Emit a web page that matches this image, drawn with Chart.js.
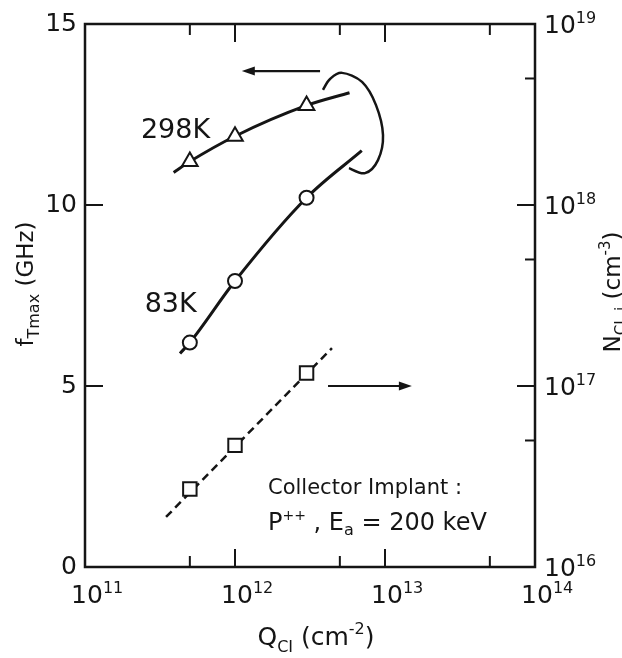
<!DOCTYPE html>
<html>
<head>
<meta charset="utf-8">
<script src="https://cdn.jsdelivr.net/npm/chart.js@4.4.1/dist/chart.umd.min.js"></script>
<style>
  html, body { margin: 0; padding: 0; background: #fff; }
  #wrap { width: 622px; height: 658px; position: relative; }
</style>
</head>
<body>
<div id="wrap"><canvas id="graf"></canvas></div>
<script>
// measured points (markers)
const Q_MARK = [5e11, 1e12, 3e12];
const F_298K = [11.2, 11.9, 12.75];
const F_83K = [6.2, 7.9, 10.2];
const N_CI = [2.7e16, 4.7e16, 1.18e17];

// hand-drawn curves through the points
const Q_FIT_298K = [3.9e11, 5e11, 1e12, 3e12, 5.8e12];
const F_FIT_298K = [10.9, 11.2, 11.9, 12.75, 13.1];
const Q_FIT_83K = [4.3e11, 5e11, 1e12, 3e12, 7e12];
const F_FIT_83K = [5.9, 6.2, 7.9, 10.2, 11.5];
const Q_FIT_N = [3.47e11, 4.43e12];
const N_FIT = [1.89e16, 1.62e17];

// axes
const X_TICKS = [1e11, 1e12, 1e13, 1e14];
const X_MINOR = [5e11, 5e12, 5e13];
const YL_TICKS = [0, 5, 10, 15];
const YR_TICKS = [1e16, 1e17, 1e18, 1e19];
const YR_MINOR = [5e16, 5e17, 5e18];

// annotations (data coordinates, left axis)
const ARROW_LEFT_Q = [3.69e12, 1.11e12];
const ARROW_LEFT_F = [13.7, 13.7];
const ARROW_RIGHT_Q = [4.17e12, 1.51e13];
const ARROW_RIGHT_F = [5.0, 5.0];
const LOOP_Q = [3.86e12, 4.3e12, 5.17e12, 7.03e12, 8.71e12, 9.7e12, 8.98e12, 7.36e12, 5.75e12];
const LOOP_F = [13.18, 13.48, 13.65, 13.4, 12.76, 11.93, 11.24, 10.88, 11.02];

const INK = "#151515";
const FONT = "'DejaVu Sans'";

function body(qs, vs) {
  return qs.map((q, i) => ({ x: q, y: vs[i] }));
}

function richText(ctx, parts, x, y, align) {
  let w = 0;
  parts.forEach(p => { ctx.font = `${p[1]}px ${FONT}`; w += ctx.measureText(p[0]).width; });
  let cx = align === "center" ? x - w / 2 : x;
  parts.forEach(p => {
    ctx.font = `${p[1]}px ${FONT}`;
    ctx.fillText(p[0], cx, y + (p[2] || 0));
    cx += ctx.measureText(p[0]).width;
  });
}

// "10" + exponent; x is the centre of "10" (or its left edge if left = true)
function mocnina(ctx, v, x, y, left) {
  const e = String(Math.round(Math.log10(v)));
  ctx.font = `25px ${FONT}`;
  const w = ctx.measureText("10").width;
  const x0 = left ? x : x - w / 2;
  richText(ctx, [["10", 25], [e, 16, -10]], x0, y, "left");
}

function sipka(ctx, x1, y1, x2, y2) {
  const ang = Math.atan2(y2 - y1, x2 - x1);
  ctx.beginPath();
  ctx.moveTo(x1, y1);
  ctx.lineTo(x2 - Math.cos(ang) * 8, y2 - Math.sin(ang) * 8);
  ctx.stroke();
  ctx.beginPath();
  ctx.moveTo(x2, y2);
  ctx.lineTo(x2 - Math.cos(ang) * 13 - Math.sin(ang) * 4.5, y2 - Math.sin(ang) * 13 + Math.cos(ang) * 4.5);
  ctx.lineTo(x2 - Math.cos(ang) * 13 + Math.sin(ang) * 4.5, y2 - Math.sin(ang) * 13 - Math.cos(ang) * 4.5);
  ctx.closePath();
  ctx.fill();
}

function krivka(ctx, pts) {
  ctx.beginPath();
  ctx.moveTo(pts[0][0], pts[0][1]);
  for (let i = 0; i < pts.length - 1; i++) {
    const p0 = pts[i - 1] || pts[i], p1 = pts[i], p2 = pts[i + 1], p3 = pts[i + 2] || p2;
    ctx.bezierCurveTo(
      p1[0] + (p2[0] - p0[0]) / 6, p1[1] + (p2[1] - p0[1]) / 6,
      p2[0] - (p3[0] - p1[0]) / 6, p2[1] - (p3[1] - p1[1]) / 6,
      p2[0], p2[1]);
  }
  ctx.stroke();
}

const ozdoby = {
  id: "ozdoby",
  afterDraw(chart) {
    const { ctx, chartArea: a, scales } = chart;
    const sx = scales.x, sy = scales.y, sn = scales.y2;
    ctx.save();
    ctx.strokeStyle = INK;
    ctx.fillStyle = INK;
    ctx.lineCap = "butt";

    // frame
    ctx.lineWidth = 2.5;
    ctx.strokeRect(a.left, a.top, a.right - a.left, a.bottom - a.top);

    // inward ticks
    ctx.lineWidth = 2;
    const carka = (x1, y1, x2, y2) => { ctx.beginPath(); ctx.moveTo(x1, y1); ctx.lineTo(x2, y2); ctx.stroke(); };
    X_TICKS.slice(1, -1).forEach(q => {
      const px = sx.getPixelForValue(q);
      carka(px, a.bottom, px, a.bottom - 18);
      carka(px, a.top, px, a.top + 18);
    });
    X_MINOR.forEach(q => {
      const px = sx.getPixelForValue(q);
      carka(px, a.bottom, px, a.bottom - 11);
      carka(px, a.top, px, a.top + 11);
    });
    YL_TICKS.slice(1, -1).forEach(v => {
      const py = sy.getPixelForValue(v);
      carka(a.left, py, a.left + 18, py);
    });
    YR_TICKS.slice(1, -1).forEach(v => {
      const py = sn.getPixelForValue(v);
      carka(a.right, py, a.right - 18, py);
    });
    YR_MINOR.forEach(v => {
      const py = sn.getPixelForValue(v);
      carka(a.right, py, a.right - 10, py);
    });

    // power-of-ten tick labels
    ctx.textBaseline = "alphabetic";
    ctx.textAlign = "left";
    X_TICKS.forEach(q => mocnina(ctx, q, sx.getPixelForValue(q) + 2, a.bottom + 36, false));
    YR_TICKS.forEach(v => mocnina(ctx, v, a.right + 9, sn.getPixelForValue(v) + 9, true));

    // arrows and loop
    ctx.lineWidth = 2.2;
    sipka(ctx, sx.getPixelForValue(ARROW_LEFT_Q[0]), sy.getPixelForValue(ARROW_LEFT_F[0]),
      sx.getPixelForValue(ARROW_LEFT_Q[1]), sy.getPixelForValue(ARROW_LEFT_F[1]));
    sipka(ctx, sx.getPixelForValue(ARROW_RIGHT_Q[0]), sy.getPixelForValue(ARROW_RIGHT_F[0]),
      sx.getPixelForValue(ARROW_RIGHT_Q[1]), sy.getPixelForValue(ARROW_RIGHT_F[1]));
    ctx.lineWidth = 2.5;
    krivka(ctx, LOOP_Q.map((q, i) => [sx.getPixelForValue(q), sy.getPixelForValue(LOOP_F[i])]));

    // labels inside
    richText(ctx, [["298K", 27]], sx.getPixelForValue(2.36e11), sy.getPixelForValue(11.85), "left");
    richText(ctx, [["83K", 27]], sx.getPixelForValue(2.5e11), sy.getPixelForValue(7.04), "left");
    richText(ctx, [["Collector Implant :", 21]], sx.getPixelForValue(1.66e12), sy.getPixelForValue(2.02), "left");
    richText(ctx, [["P", 24], ["++", 14, -10], [" , E", 24], ["a", 16, 5], [" = 200 keV", 24]],
      sx.getPixelForValue(1.66e12), sy.getPixelForValue(1.02), "left");

    // axis titles
    richText(ctx, [["Q", 25], ["CI", 16, 7], [" (cm", 25], ["-2", 16, -11], [")", 25]],
      316, 645, "center");

    ctx.save();
    ctx.translate(33, 284);
    ctx.rotate(-Math.PI / 2);
    richText(ctx, [["f", 23], ["Tmax", 16, 6], [" (GHz)", 23]], 0, 0, "center");
    ctx.restore();

    ctx.save();
    ctx.translate(620, 292);
    ctx.rotate(-Math.PI / 2);
    richText(ctx, [["N", 23], ["CI, i", 15, 6], [" (cm", 23], ["-3", 15, -10], [")", 23]], 0, 0, "center");
    ctx.restore();

    ctx.restore();
  }
};

new Chart(document.getElementById("graf"), {
  type: "line",
  data: {
    datasets: [
      {
        data: body(Q_FIT_298K, F_FIT_298K), yAxisID: "y",
        borderColor: INK, borderWidth: 3, pointRadius: 0,
        cubicInterpolationMode: "monotone", order: 2
      },
      {
        data: body(Q_FIT_83K, F_FIT_83K), yAxisID: "y",
        borderColor: INK, borderWidth: 3, pointRadius: 0,
        cubicInterpolationMode: "monotone", order: 2
      },
      {
        data: body(Q_FIT_N, N_FIT), yAxisID: "y2",
        borderColor: INK, borderWidth: 2.5, borderDash: [8, 5], pointRadius: 0, order: 2
      },
      {
        data: body(Q_MARK, F_298K), yAxisID: "y", showLine: false,
        pointStyle: "triangle", pointRadius: 9, pointBorderWidth: 2,
        pointBorderColor: INK, pointBackgroundColor: "#fff", order: 0
      },
      {
        data: body(Q_MARK, F_83K), yAxisID: "y", showLine: false,
        pointStyle: "circle", pointRadius: 7, pointBorderWidth: 2,
        pointBorderColor: INK, pointBackgroundColor: "#fff", order: 0
      },
      {
        data: body(Q_MARK, N_CI), yAxisID: "y2", showLine: false,
        pointStyle: "rect", pointRadius: 9.5, pointBorderWidth: 2,
        pointBorderColor: INK, pointBackgroundColor: "#fff", order: 0
      }
    ]
  },
  options: {
    responsive: true,
    maintainAspectRatio: false,
    animation: false,
    layout: { padding: { top: 24, left: 0, right: 0, bottom: 0 } },
    plugins: { legend: { display: false }, tooltip: { enabled: false } },
    scales: {
      x: {
        type: "logarithmic", min: 1e11, max: 1e14,
        grid: { display: false, drawTicks: false },
        border: { display: false },
        afterBuildTicks: s => { s.ticks = X_TICKS.map(v => ({ value: v })); },
        afterFit: s => { s.height = 91; },
        ticks: { display: false }
      },
      y: {
        type: "linear", position: "left", min: 0, max: 15,
        grid: { display: false, drawTicks: false },
        border: { display: false },
        afterBuildTicks: s => { s.ticks = YL_TICKS.map(v => ({ value: v })); },
        afterFit: s => { s.width = 85; },
        ticks: { color: INK, font: { family: FONT, size: 25 }, padding: 8 }
      },
      y2: {
        type: "logarithmic", position: "right", min: 1e16, max: 1e19,
        grid: { display: false, drawTicks: false },
        border: { display: false },
        afterBuildTicks: s => { s.ticks = YR_TICKS.map(v => ({ value: v })); },
        afterFit: s => { s.width = 87; },
        ticks: { display: false }
      }
    }
  },
  plugins: [ozdoby]
});
</script>
</body>
</html>
